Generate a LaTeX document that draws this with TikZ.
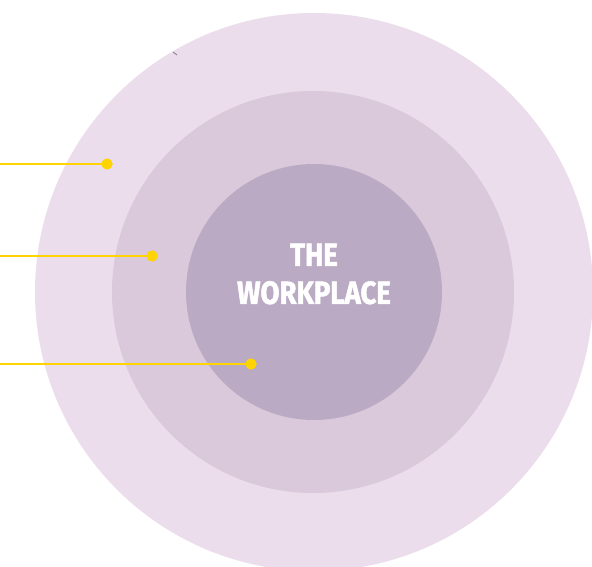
\documentclass[tikz,border=0pt]{standalone}
\usepackage{fontspec}
\newfontfamily\titlefont[FakeStretch=0.86,BoldFeatures={FakeBold=1.6}]{Fira Sans}
\definecolor{outerc}{HTML}{EBDDEC}
\definecolor{midc}{HTML}{D9C9DB}
\definecolor{innerc}{HTML}{BBAAC3}
\definecolor{yel}{HTML}{FFD400}
\begin{document}
\begin{tikzpicture}[x=1pt,y=-1pt,
  ring/.style={circle,inner sep=0pt,draw=none},
  lead/.style={draw=yel,line width=2.8pt},
  dot/.style={circle,fill=yel,inner sep=0pt,minimum size=11pt}]
\useasboundingbox (0,0) rectangle (592,567);
\clip (0,0) rectangle (592,567);
\fill[white] (0,0) rectangle (592,567);
\node[ring,fill=outerc,minimum size=558pt] (outer) at (314,292) {};
\node[ring,fill=midc,minimum size=402pt] (mid) at (313,292) {};
\node[ring,fill=innerc,minimum size=256pt] (inner) at (314,292) {};
\node[text=white,font=\titlefont\bfseries\fontsize{32}{38}\selectfont,align=center,inner sep=0pt] (title) at (314,274) {THE\\WORKPLACE};
\coordinate (s1) at (0,164);
\coordinate (s2) at (0,256);
\coordinate (s3) at (0,364);
\node[dot] (d1) at (107,164) {};
\node[dot] (d2) at (152,256) {};
\node[dot] (d3) at (251,364) {};
\draw[lead] (s1) -- (d1.center);
\draw[lead] (s2) -- (d2.center);
\draw[lead] (s3) -- (d3.center);
\node[dot] at (107,164) {};
\node[dot] at (152,256) {};
\node[dot] at (251,364) {};
\coordinate (t1) at (173,52);
\coordinate (t2) at (177,55);
\draw[gray,line width=0.8pt] (t1) -- (t2);
\end{tikzpicture}
\end{document}
